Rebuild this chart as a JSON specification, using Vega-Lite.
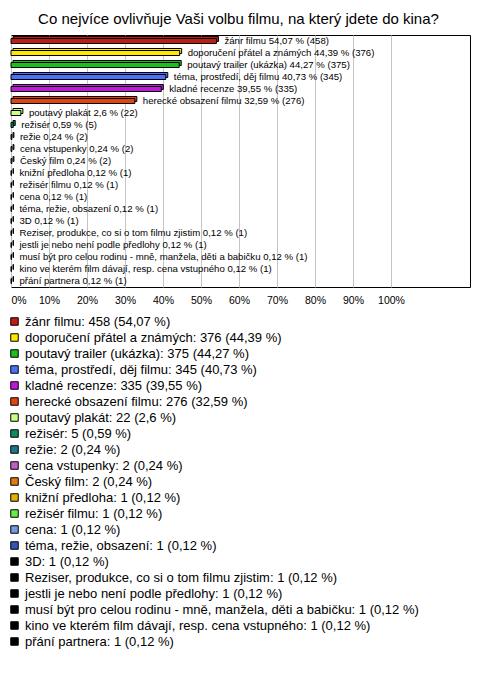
{
  "$schema": "https://vega.github.io/schema/vega-lite/v6.json",
  "width": 459,
  "height": 252,
  "padding": {"left": 11, "top": 35, "right": 10, "bottom": 386},
  "autosize": {"type": "none"},
  "background": "white",
  "title": {"text": "Co nejvíce ovlivňuje Vaši volbu filmu, na který jdete do kina?", "fontSize": 15, "fontWeight": "normal", "font": "Liberation Sans", "color": "black", "anchor": "middle", "offset": 8, "dx": -2},
  "config": {
    "font": "Liberation Sans",
    "view": {"stroke": "black", "strokeWidth": 1}
  },
  "data": {
    "values": [
      {"cat": "žánr filmu", "n": 458, "share": 0.5407, "label": "žánr filmu 54,07 % (458)", "leg": "žánr filmu: 458 (54,07 %)"},
      {"cat": "doporučení přátel a známých", "n": 376, "share": 0.4439, "label": "doporučení přátel a známých 44,39 % (376)", "leg": "doporučení přátel a známých: 376 (44,39 %)"},
      {"cat": "poutavý trailer (ukázka)", "n": 375, "share": 0.4427, "label": "poutavý trailer (ukázka) 44,27 % (375)", "leg": "poutavý trailer (ukázka): 375 (44,27 %)"},
      {"cat": "téma, prostředí, děj filmu", "n": 345, "share": 0.4073, "label": "téma, prostředí, děj filmu 40,73 % (345)", "leg": "téma, prostředí, děj filmu: 345 (40,73 %)"},
      {"cat": "kladné recenze", "n": 335, "share": 0.3955, "label": "kladné recenze 39,55 % (335)", "leg": "kladné recenze: 335 (39,55 %)"},
      {"cat": "herecké obsazení filmu", "n": 276, "share": 0.3259, "label": "herecké obsazení filmu 32,59 % (276)", "leg": "herecké obsazení filmu: 276 (32,59 %)"},
      {"cat": "poutavý plakát", "n": 22, "share": 0.026, "label": "poutavý plakát 2,6 % (22)", "leg": "poutavý plakát: 22 (2,6 %)"},
      {"cat": "režisér", "n": 5, "share": 0.0059, "label": "režisér 0,59 % (5)", "leg": "režisér: 5 (0,59 %)"},
      {"cat": "režie", "n": 2, "share": 0.0024, "label": "režie 0,24 % (2)", "leg": "režie: 2 (0,24 %)"},
      {"cat": "cena vstupenky", "n": 2, "share": 0.0024, "label": "cena vstupenky 0,24 % (2)", "leg": "cena vstupenky: 2 (0,24 %)"},
      {"cat": "Český film", "n": 2, "share": 0.0024, "label": "Český film 0,24 % (2)", "leg": "Český film: 2 (0,24 %)"},
      {"cat": "knižní předloha", "n": 1, "share": 0.0012, "label": "knižní předloha 0,12 % (1)", "leg": "knižní předloha: 1 (0,12 %)"},
      {"cat": "režisér filmu", "n": 1, "share": 0.0012, "label": "režisér filmu 0,12 % (1)", "leg": "režisér filmu: 1 (0,12 %)"},
      {"cat": "cena", "n": 1, "share": 0.0012, "label": "cena 0,12 % (1)", "leg": "cena: 1 (0,12 %)"},
      {"cat": "téma, režie, obsazení", "n": 1, "share": 0.0012, "label": "téma, režie, obsazení 0,12 % (1)", "leg": "téma, režie, obsazení: 1 (0,12 %)"},
      {"cat": "3D", "n": 1, "share": 0.0012, "label": "3D 0,12 % (1)", "leg": "3D: 1 (0,12 %)"},
      {"cat": "Reziser, produkce, co si o tom filmu zjistim", "n": 1, "share": 0.0012, "label": "Reziser, produkce, co si o tom filmu zjistim 0,12 % (1)", "leg": "Reziser, produkce, co si o tom filmu zjistim: 1 (0,12 %)"},
      {"cat": "jestli je nebo není podle předlohy", "n": 1, "share": 0.0012, "label": "jestli je nebo není podle předlohy 0,12 % (1)", "leg": "jestli je nebo není podle předlohy: 1 (0,12 %)"},
      {"cat": "musí být pro celou rodinu - mně, manžela, děti a babičku", "n": 1, "share": 0.0012, "label": "musí být pro celou rodinu - mně, manžela, děti a babičku 0,12 % (1)", "leg": "musí být pro celou rodinu - mně, manžela, děti a babičku: 1 (0,12 %)"},
      {"cat": "kino ve kterém film dávají, resp. cena vstupného", "n": 1, "share": 0.0012, "label": "kino ve kterém film dávají, resp. cena vstupného 0,12 % (1)", "leg": "kino ve kterém film dávají, resp. cena vstupného: 1 (0,12 %)"},
      {"cat": "přání partnera", "n": 1, "share": 0.0012, "label": "přání partnera 0,12 % (1)", "leg": "přání partnera: 1 (0,12 %)"}
    ]
  },
  "encoding": {
    "y": {"field": "cat", "type": "nominal", "sort": null, "axis": null, "scale": {"paddingInner": 0, "paddingOuter": 0}},
    "x": {
      "field": "share", "type": "quantitative",
      "scale": {"domain": [0, 1.2079], "nice": false},
      "axis": {
        "title": null, "format": "%", "values": [0, 0.1, 0.2, 0.3, 0.4, 0.5, 0.6, 0.7, 0.8, 0.9, 1.0],
        "grid": true, "gridColor": "#c4c4c4", "gridWidth": 1, "domain": false, "ticks": false,
        "labelFontSize": 10.5, "labelColor": "black", "labelPadding": 8, "labelFlush": true, "labelFlushOffset": 0
      }
    },
    "color": {
      "field": "leg", "type": "nominal",
      "scale": {
        "domain": ["žánr filmu: 458 (54,07 %)", "doporučení přátel a známých: 376 (44,39 %)", "poutavý trailer (ukázka): 375 (44,27 %)", "téma, prostředí, děj filmu: 345 (40,73 %)", "kladné recenze: 335 (39,55 %)", "herecké obsazení filmu: 276 (32,59 %)", "poutavý plakát: 22 (2,6 %)", "režisér: 5 (0,59 %)", "režie: 2 (0,24 %)", "cena vstupenky: 2 (0,24 %)", "Český film: 2 (0,24 %)", "knižní předloha: 1 (0,12 %)", "režisér filmu: 1 (0,12 %)", "cena: 1 (0,12 %)", "téma, režie, obsazení: 1 (0,12 %)", "3D: 1 (0,12 %)", "Reziser, produkce, co si o tom filmu zjistim: 1 (0,12 %)", "jestli je nebo není podle předlohy: 1 (0,12 %)", "musí být pro celou rodinu - mně, manžela, děti a babičku: 1 (0,12 %)", "kino ve kterém film dávají, resp. cena vstupného: 1 (0,12 %)", "přání partnera: 1 (0,12 %)"],
        "range": ["#c01c10", "#ffe800", "#1cc01c", "#4c70f8", "#c018d8", "#e04410", "#ccff88", "#108c5c", "#1c7888", "#c060c0", "#e07c10", "#e0b010", "#66ee44", "#7799dd", "#3356bb", "#000000", "#000000", "#000000", "#000000", "#000000", "#000000"]
      },
      "legend": {
        "orient": "none", "legendX": -3, "legendY": 280, "direction": "vertical", "title": null,
        "symbolType": "square", "symbolSize": 56, "symbolStrokeColor": "black", "symbolStrokeWidth": 1,
        "labelFontSize": 13, "labelColor": "black", "labelLimit": 470, "rowPadding": 2, "labelOffset": 4, "padding": 0
      }
    }
  },
  "layer": [
    {
      "mark": {"type": "bar", "size": 5, "stroke": "black", "strokeWidth": 1, "xOffset": 2, "yOffset": -2}
    },
    {
      "mark": {"type": "bar", "size": 5, "stroke": "black", "strokeWidth": 1}
    },
    {
      "mark": {"type": "text", "align": "left", "baseline": "middle", "dx": 8, "fontSize": 9.6},
      "encoding": {"text": {"field": "label"}, "color": {"value": "black"}}
    }
  ]
}
